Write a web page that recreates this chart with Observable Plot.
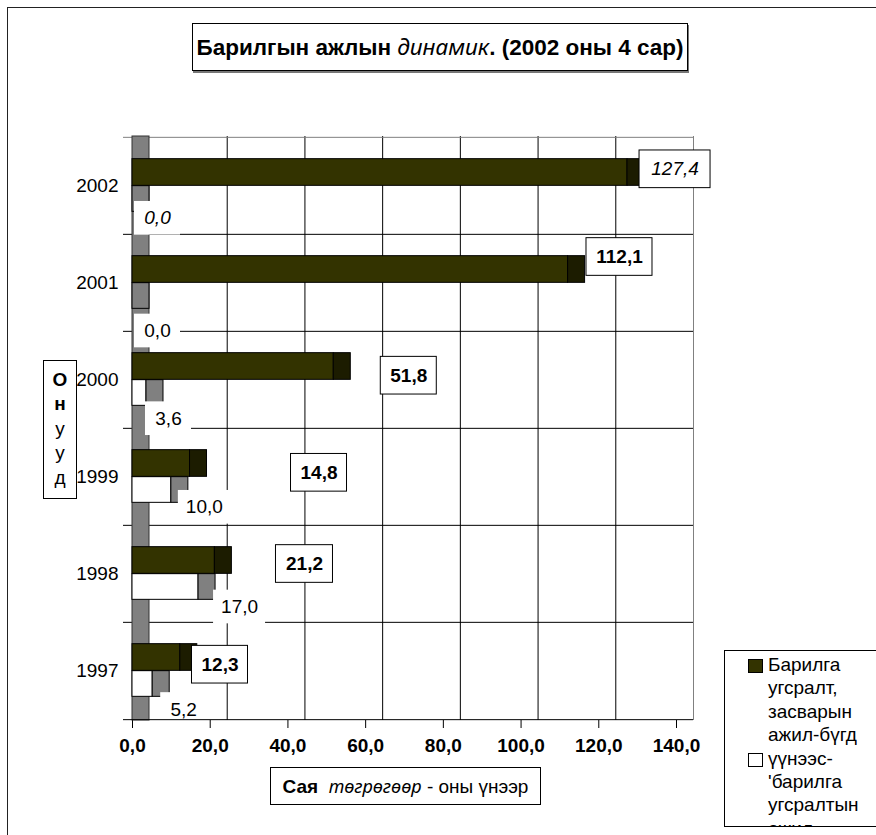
<!DOCTYPE html>
<html>
<head>
<meta charset="utf-8">
<script src="https://cdn.jsdelivr.net/npm/d3@7"></script>
<script src="https://cdn.jsdelivr.net/npm/@observablehq/plot@0.6"></script>
<style>
html, body { margin: 0; padding: 0; background: #fff; overflow: hidden; }
#wrap { position: relative; width: 876px; height: 835px; overflow: hidden;
        font-family: "Liberation Sans", Arial, sans-serif; color: #000; }
#chart { position: absolute; left: 0; top: 0; }
.box { position: absolute; border: 1px solid #000; background: #fff; box-sizing: border-box; }
#outer { position: absolute; left: 7px; top: 7px; width: 890px; height: 850px;
         border: 1px solid #222; pointer-events: none; background: transparent; }
#title { left: 192px; top: 23px; width: 496px; height: 48px; font-size: 22.5px; font-weight: bold;
         text-align: center; line-height: 45px; white-space: nowrap; box-shadow: 1px 2px 0 #777; }
#title i { font-weight: normal; font-family: "Noto Sans", "Liberation Sans", sans-serif; }
#ytitle { left: 43px; top: 360px; width: 34px; height: 139px; font-size: 19px; text-align: center;
          line-height: 24.4px; padding-top: 7px; }
#xtitle { left: 270px; top: 767px; width: 271px; height: 38px; font-size: 19px; text-align: center;
          line-height: 36px; white-space: nowrap; }
#xtitle i { font-family: "Noto Sans", "Liberation Sans", sans-serif; font-size: 18px; }
#legend { left: 724px; top: 650px; width: 170px; height: 177px; overflow: hidden; font-size: 19px;
          line-height: 23.4px; padding-top: 2px; }
.leg-item { position: relative; padding-left: 43px; }
.leg-key { position: absolute; left: 23px; top: 6px; width: 15px; height: 14px; border: 1px solid #000;
           box-sizing: border-box; }
</style>
</head>
<body>
<div id="wrap">
  <div id="chart"></div>
  <div id="title" class="box"><span>Барилгын ажлын </span><i>динамик</i><span>. (2002 оны 4 сар)</span></div>
  <div id="ytitle" class="box"><b>О</b><br><b>н</b><br>у<br>у<br>д</div>
  <div id="xtitle" class="box"><b>Сая</b>&nbsp; <i>төгрөгөөр</i> - оны үнээр</div>
  <div id="legend" class="box"></div>
  <div id="outer"></div>
</div>
<script>
// ---- data ----
const years = ["2002", "2001", "2000", "1999", "1998", "1997"];
const totalWork = [127.4, 112.1, 51.8, 14.8, 21.2, 12.3];   // Барилга угсралт, засварын ажил-бүгд
const ofWhich   = [0.0, 0.0, 3.6, 10.0, 17.0, 5.2];          // үүнээс 'барилга угсралтын ажил'
const xTicks = [0, 20, 40, 60, 80, 100, 120, 140];
const seriesNames = [
  ["Барилга", "угсралт,", "засварын", "ажил-бүгд"],
  ["үүнээс-", "'барилга", "угсралтын", "ажил"]
];

// ---- layout (pixels) ----
const W = 876, H = 835, mTop = 136, mBottom = 115, mLeft = 132, mRight = 200;
const depth = 17;
const bw = (H - mTop - mBottom) / years.length;
const ppu = (W - mLeft - mRight) / 140;
const darkH = 27, whiteH = 26;
// label placement: [dx from bar end, dy from band centre, box width]
const totalLabelPos = [[47.5, -16.7, 71], [51.4, -26, 66], [75, -4.3, 56], [129, -4.2, 56], [89.6, -10, 57], [39.7, -6.3, 56]];
const partLabelPos  = [[25, 32.3, 46], [25, 48, 46], [22, 38.7, 46], [33, 30.3, 52], [41, 33, 52], [31, 38.5, 46]];

const fmt = v => v.toFixed(1).replace(".", ",");
const total = years.map((y, i) => ({year: y, value: totalWork[i]}));
const part = years.map((y, i) => ({year: y, value: ofWhich[i]}));

const darkFront = "#333300", darkEnd = "#1c1c00", grayEnd = "#808080";

const labelMarks = [];
part.forEach((d, i) => {
  const [cx, cy, w] = partLabelPos[i];
  const h = 34;
  labelMarks.push(Plot.barX([d], {x1: "value", x2: "value", y: "year",
    insetLeft: cx - w / 2, insetRight: -(cx + w / 2),
    insetTop: bw / 2 + cy - h / 2, insetBottom: bw / 2 - cy - h / 2, fill: "#fff"}));
  labelMarks.push(Plot.text([d], {x: "value", y: "year", text: d => fmt(d.value), dx: cx, dy: cy,
    fontStyle: d.year === "2002" ? "italic" : "normal"}));
});
total.forEach((d, i) => {
  const [cx, cy, w] = totalLabelPos[i];
  const h = 38;
  labelMarks.push(Plot.barX([d], {x1: "value", x2: "value", y: "year",
    insetLeft: cx - w / 2, insetRight: -(cx + w / 2),
    insetTop: bw / 2 + cy - h / 2, insetBottom: bw / 2 - cy - h / 2, fill: "#fff", stroke: "#000"}));
  labelMarks.push(Plot.text([d], {x: "value", y: "year", text: d => fmt(d.value), dx: cx, dy: cy,
    fontWeight: d.year === "2002" ? "normal" : "bold",
    fontStyle: d.year === "2002" ? "italic" : "normal"}));
});

const chart = Plot.plot({
  width: W, height: H,
  marginTop: mTop, marginBottom: mBottom, marginLeft: mLeft, marginRight: mRight,
  style: {fontFamily: "Liberation Sans, Arial, sans-serif", fontSize: "19px", background: "transparent", overflow: "visible"},
  x: {domain: [0, 140], ticks: xTicks.length - 1, tickSize: 8, tickPadding: 10, tickFormat: fmt, label: null},
  y: {domain: years, padding: 0, tickSize: 0, tickPadding: 14, label: null},
  marks: [
    // back wall grid
    Plot.ruleX(xTicks.filter(t => t > 0 && t < 140), {x: d => d, dx: depth, stroke: "#000"}),
    Plot.ruleX([140], {x: d => d, dx: depth, stroke: "#808080"}),
    Plot.ruleY(years.slice(1), {y: d => d, dy: -bw / 2, x1: -9 / ppu, x2: 140 + depth / ppu, stroke: "#000"}),
    Plot.ruleY(years.slice(0, 1), {y: d => d, dy: -bw / 2, x1: -9 / ppu, x2: 140 + depth / ppu, stroke: "#808080"}),
    // left side wall
    Plot.barX([0], {x1: d => d, x2: d => d, insetRight: -depth, fill: "#808080", stroke: "#333"}),
    // series 2 (white)
    Plot.barX(part, {x: "value", y: "year", insetTop: bw / 2, insetBottom: bw / 2 - whiteH, fill: "#fff", stroke: "#000"}),
    Plot.barX(part, {x1: "value", x2: "value", y: "year", insetRight: -depth, insetTop: bw / 2, insetBottom: bw / 2 - whiteH, fill: grayEnd, stroke: "#000"}),
    // series 1 (dark olive)
    Plot.barX(total, {x: "value", y: "year", insetTop: bw / 2 - darkH, insetBottom: bw / 2, fill: darkFront, stroke: "#000"}),
    Plot.barX(total, {x1: "value", x2: "value", y: "year", insetRight: -depth, insetTop: bw / 2 - darkH, insetBottom: bw / 2, fill: darkEnd, stroke: "#000"}),
    ...labelMarks,
    // floor / axis line
    Plot.ruleY(years.slice(-1), {y: d => d, dy: bw / 2, x1: -9 / ppu, x2: 140 + depth / ppu, stroke: "#000"})
  ]
});
document.getElementById("chart").appendChild(chart);
chart.querySelectorAll('g[aria-label^="x-axis"] text').forEach(t => t.setAttribute("font-weight", "bold"));

// legend
const legend = document.getElementById("legend");
const keyFill = [darkFront, "#fff"];
seriesNames.forEach((lines, i) => {
  const item = document.createElement("div");
  item.className = "leg-item";
  item.innerHTML = `<span class="leg-key" style="background:${keyFill[i]}"></span>` + lines.join("<br>");
  legend.appendChild(item);
});
</script>
</body>
</html>
